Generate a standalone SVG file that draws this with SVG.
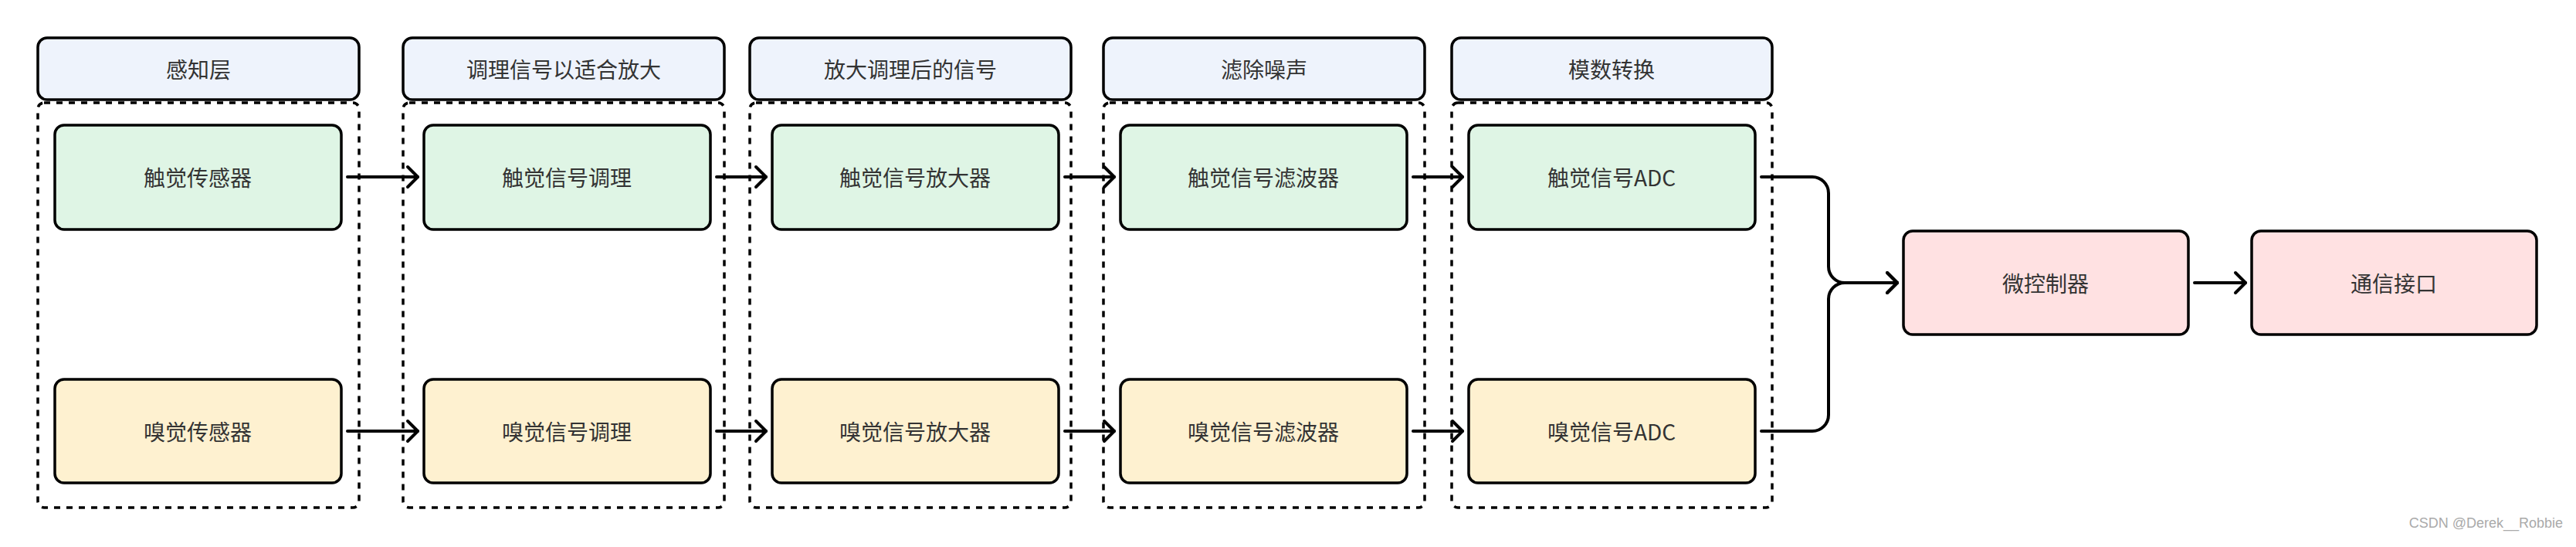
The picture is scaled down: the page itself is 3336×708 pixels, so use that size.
<svg xmlns="http://www.w3.org/2000/svg" width="3336" height="708" viewBox="0 0 3336 708">
<style>
text{font-family:"Noto Sans CJK SC","Noto Sans",sans-serif;font-size:28px;fill:#333;text-anchor:middle;dominant-baseline:central}
.hdr{fill:#eef3fc;stroke:#000;stroke-width:3.5}
.grp{fill:none;stroke:#000;stroke-width:3.5;stroke-dasharray:8 8}
.tac{fill:#dff5e5;stroke:#000;stroke-width:3.5}
.olf{fill:#fef1d0;stroke:#000;stroke-width:3.5}
.mcu{fill:#ffe1e2;stroke:#000;stroke-width:3.5}
.edge{fill:none;stroke:#000;stroke-width:4;stroke-linecap:round;stroke-linejoin:round}
.wm{font-family:"Liberation Sans",Arial,sans-serif;font-size:18px;fill:#aaa;text-anchor:end;dominant-baseline:auto}
</style>
<defs>
<marker id="arr" markerUnits="userSpaceOnUse" viewBox="-20 -20 40 40" markerWidth="40" markerHeight="40" refX="0" refY="0" orient="auto" overflow="visible">
<path d="M-13,-13 L0,0 L-13,13" fill="none" stroke="#000" stroke-width="4" stroke-linecap="round" stroke-linejoin="round"/>
</marker>
</defs>
<rect width="3336" height="708" fill="#fff"/>

<g id="col1">
<rect class="grp" x="49" y="133" width="416" height="524" rx="8"/>
<rect class="hdr" x="49" y="49" width="416" height="80" rx="12"/>
<text x="257" y="89">感知层</text>
</g>
<g id="col2">
<rect class="grp" x="522" y="133" width="416" height="524" rx="8"/>
<rect class="hdr" x="522" y="49" width="416" height="80" rx="12"/>
<text x="730" y="89">调理信号以适合放大</text>
</g>
<g id="col3">
<rect class="grp" x="971" y="133" width="416" height="524" rx="8"/>
<rect class="hdr" x="971" y="49" width="416" height="80" rx="12"/>
<text x="1179" y="89">放大调理后的信号</text>
</g>
<g id="col4">
<rect class="grp" x="1429" y="133" width="416" height="524" rx="8"/>
<rect class="hdr" x="1429" y="49" width="416" height="80" rx="12"/>
<text x="1637" y="89">滤除噪声</text>
</g>
<g id="col5">
<rect class="grp" x="1880" y="133" width="415" height="524" rx="8"/>
<rect class="hdr" x="1880" y="49" width="415" height="80" rx="12"/>
<text x="2087" y="89">模数转换</text>
</g>

<g id="tactile_sensor"><rect class="tac" x="71" y="162" width="371" height="135" rx="12"/><text x="256" y="229">触觉传感器</text></g>
<g id="olfactory_sensor"><rect class="olf" x="71" y="491" width="371" height="134" rx="12"/><text x="256" y="558">嗅觉传感器</text></g>
<g id="tactile_cond"><rect class="tac" x="549" y="162" width="371" height="135" rx="12"/><text x="734" y="229">触觉信号调理</text></g>
<g id="olfactory_cond"><rect class="olf" x="549" y="491" width="371" height="134" rx="12"/><text x="734" y="558">嗅觉信号调理</text></g>
<g id="tactile_amp"><rect class="tac" x="1000" y="162" width="371" height="135" rx="12"/><text x="1185" y="229">触觉信号放大器</text></g>
<g id="olfactory_amp"><rect class="olf" x="1000" y="491" width="371" height="134" rx="12"/><text x="1185" y="558">嗅觉信号放大器</text></g>
<g id="tactile_filter"><rect class="tac" x="1451" y="162" width="371" height="135" rx="12"/><text x="1636" y="229">触觉信号滤波器</text></g>
<g id="olfactory_filter"><rect class="olf" x="1451" y="491" width="371" height="134" rx="12"/><text x="1636" y="558">嗅觉信号滤波器</text></g>
<g id="tactile_adc"><rect class="tac" x="1902" y="162" width="371" height="135" rx="12"/><text x="2087" y="229">触觉信号ADC</text></g>
<g id="olfactory_adc"><rect class="olf" x="1902" y="491" width="371" height="134" rx="12"/><text x="2087" y="558">嗅觉信号ADC</text></g>
<g id="mcu"><rect class="mcu" x="2465" y="299" width="369" height="134" rx="12"/><text x="2649" y="366">微控制器</text></g>
<g id="comm"><rect class="mcu" x="2916" y="299" width="369" height="134" rx="12"/><text x="3100" y="366">通信接口</text></g>

<g id="connectors">
<path class="edge" d="M450,229 H541" marker-end="url(#arr)"/>
<path class="edge" d="M450,558 H541" marker-end="url(#arr)"/>
<path class="edge" d="M928,229 H992" marker-end="url(#arr)"/>
<path class="edge" d="M928,558 H992" marker-end="url(#arr)"/>
<path class="edge" d="M1379,229 H1443" marker-end="url(#arr)"/>
<path class="edge" d="M1379,558 H1443" marker-end="url(#arr)"/>
<path class="edge" d="M1830,229 H1894" marker-end="url(#arr)"/>
<path class="edge" d="M1830,558 H1894" marker-end="url(#arr)"/>
<path class="edge" d="M2281,229 H2347 A21,21 0 0 1 2368,250 V345 A21,21 0 0 0 2389,366 H2457" marker-end="url(#arr)"/>
<path class="edge" d="M2281,558 H2347 A21,21 0 0 0 2368,537 V387 A21,21 0 0 1 2389,366 H2457" marker-end="url(#arr)"/>
<path class="edge" d="M2842,366 H2908" marker-end="url(#arr)"/>
</g>

<text class="wm" x="3319" y="683">CSDN @Derek__Robbie</text>
</svg>
